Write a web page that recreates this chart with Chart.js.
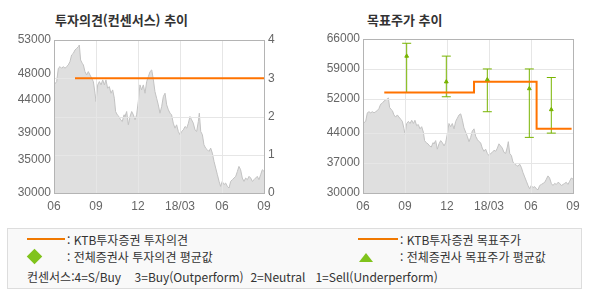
<!DOCTYPE html>
<html lang="ko">
<head>
<meta charset="utf-8">
<script src="https://cdn.jsdelivr.net/npm/chart.js@4.4.1/dist/chart.umd.min.js"></script>
<style>
    body { margin: 0; background: #fff; }
    #wrap { position: relative; width: 590px; height: 300px; font-family: "Noto Sans CJK KR", sans-serif; color: #333; }
    .title { position: absolute; top: 11px; font-size: 13px; font-weight: bold; line-height: 18px; color: #333; }
    canvas { position: absolute; top: 0; }
    #legend { position: absolute; left: 7px; top: 228px; width: 575px; height: 61px; border: 1px solid #ddd; background: #f9f9f9; box-sizing: border-box; }
    .lg { position: absolute; font-size: 12px; line-height: 16px; white-space: pre; color: #333; }
    .lg-line { position: absolute; height: 2px; background: #f07800; }
    .lg-diamond { position: absolute; width: 11px; height: 11px; background: #80c31c; transform: rotate(45deg); }
    .lg-tri { position: absolute; width: 0; height: 0; border-left: 7px solid transparent; border-right: 7px solid transparent; border-bottom: 9px solid #80c31c; }
</style>
</head>
<body>
<div id="wrap">
    <div class="title" style="left:55px">투자의견(컨센서스) 추이</div>
    <div class="title" style="left:367px">목표주가 추이</div>
    <canvas id="opinionChart" width="295" height="220" style="left:0"></canvas>
    <canvas id="targetChart" width="295" height="220" style="left:295px"></canvas>

    <div id="legend"></div>
    <div class="lg-line" style="left:27px; top:238px; width:38px"></div>
    <div class="lg" style="left:67px; top:232px">: KTB투자증권 투자의견</div>
    <div class="lg-line" style="left:358px; top:238px; width:40px"></div>
    <div class="lg" style="left:400px; top:232px">: KTB투자증권 목표주가</div>
    <div class="lg-diamond" style="left:29px; top:251px"></div>
    <div class="lg" style="left:67px; top:249px">: 전체증권사 투자의견 평균값</div>
    <div class="lg-tri" style="left:359px; top:253px"></div>
    <div class="lg" style="left:400px; top:249px">: 전체증권사 목표주가 평균값</div>
    <div class="lg" style="left:27px; top:269px">컨센서스:4=S/Buy    3=Buy(Outperform)  2=Neutral   1=Sell(Underperform)</div>
</div>

<script>
// x축: 2017년 6월부터의 개월 수
const xTicks = [0, 3, 6, 9, 12, 15];
const xLabels = ['06', '09', '12', '18/03', '06', '09'];

// 주가 (회색 영역)
const priceMonths = [0.00, 0.19, 0.31, 0.43, 0.55, 0.67, 0.79, 0.90, 1.02, 1.14, 1.26, 1.38, 1.50, 1.62, 1.74, 1.81, 1.90,
    2.02, 2.10, 2.21, 2.33, 2.45, 2.57, 2.69, 2.81, 2.93, 3.00, 3.12, 3.24, 3.36, 3.48, 3.60, 3.71, 3.83, 3.95,
    4.07, 4.19, 4.31, 4.40, 4.52, 4.64, 4.76, 4.88, 5.00, 5.07, 5.19, 5.31, 5.43, 5.55, 5.67, 5.79, 5.90,
    6.02, 6.14, 6.26, 6.38, 6.50, 6.62, 6.74, 6.86, 6.98, 7.10, 7.21, 7.33, 7.45, 7.57, 7.69, 7.81, 7.93,
    8.05, 8.17, 8.29, 8.40, 8.52, 8.64, 8.76, 8.88, 9.00, 9.12, 9.24, 9.36, 9.48, 9.60, 9.71, 9.83, 9.95,
    10.07, 10.19, 10.31, 10.38, 10.48, 10.60, 10.71, 10.83, 10.95, 11.07, 11.19, 11.31, 11.43, 11.55, 11.67, 11.79, 11.90,
    12.02, 12.14, 12.26, 12.38, 12.50, 12.62, 12.74, 12.86, 12.98, 13.10, 13.21, 13.33, 13.45, 13.57, 13.69, 13.81, 13.93,
    14.05, 14.17, 14.29, 14.40, 14.52, 14.64, 14.76, 14.88, 15.00];
const prices = [46250, 46750, 48750, 49000, 48750, 49000, 48750, 49000, 49250, 49750, 50750, 51000, 51500, 51750, 52000, 52250, 50000,
    49500, 49250, 48250, 47750, 48250, 47750, 47250, 46750, 45000, 43750, 46250, 46750, 46250, 47000, 46250, 47000, 45750, 46000,
    45000, 45500, 44250, 42250, 41750, 41500, 41000, 40750, 41750, 41500, 42250, 40250, 41500, 42250, 41750, 41000, 41750,
    43750, 46250, 45500, 46250, 45000, 46750, 47500, 48250, 48500, 47000, 45250, 44250, 43250, 42000, 43000, 44500, 45000,
    43250, 42500, 42000, 41750, 40500, 39750, 40250, 39250, 38750, 39250, 39500, 40000, 39750, 40500, 41500, 41000, 40500,
    39500, 39250, 40750, 42000, 39250, 38750, 37250, 36750, 36500, 36250, 36750, 36000, 34750, 33750, 32750, 31750, 31000,
    31750, 31250, 31500, 31000, 30750, 31750, 32000, 32250, 32500, 33250, 34000, 33500, 32250, 31750, 32250, 32000, 32500,
    32250, 31750, 32000, 32250, 32500, 32000, 32750, 33500, 33250];

// 왼쪽 차트 축
const priceTicksLeft = [30000, 35000, 39000, 44000, 48000, 53000];
const opinionTicks = [0, 1, 2, 3, 4];

// KTB 투자의견
const opinionMonths = [1.5, 15];
const opinionValues = [3, 3];

// 오른쪽 차트 축
const priceTicksRight = [30000, 37000, 44000, 52000, 59000, 66000];

// KTB 목표주가 (계단)
const targetMonths = [1.52, 7.93, 12.4, 14.9];
const targetValues = [53500, 56000, 45000, 45000];

// 전체증권사 목표주가: 최고/평균/최저
const consMonths = [3.12, 5.95, 8.88, 11.88, 13.45];
const consHigh = [65000, 62000, 59000, 59000, 57000];
const consAvg = [62000, 56000, 56500, 54400, 49500];
const consLow = [53500, 52500, 49000, 43000, 44000];

const toPoints = (xs, ys) => xs.map((x, i) => ({ x: x, y: ys[i] }));

const tickFont = { family: '"Liberation Sans", Arial, sans-serif', size: 12 };
const tickColor = '#666';
const orange = '#ff7300';
const green = '#78b400';

// 회색 영역 바로 위에 격자와 테두리를 그림 (선은 그 위로)
const gridOver = {
    id: 'gridOver',
    afterDatasetDraw(chart, args, opts) {
        if (args.index !== opts.areaIndex) return;
        const ctx = chart.ctx;
        const a = chart.chartArea;
        const xs = chart.scales.x;
        const ys = chart.scales[opts.axis];
        ctx.save();
        ctx.strokeStyle = '#e6e6e6';
        ctx.lineWidth = 1;
        ctx.beginPath();
        xs.ticks.forEach(t => {
            const px = Math.round(xs.getPixelForValue(t.value)) + 0.5;
            ctx.moveTo(px, a.top);
            ctx.lineTo(px, a.bottom);
        });
        ys.ticks.forEach(t => {
            const py = Math.round(ys.getPixelForValue(t.value)) + 0.5;
            ctx.moveTo(a.left, py);
            ctx.lineTo(a.right, py);
        });
        ctx.stroke();
        ctx.strokeStyle = '#b4b4b4';
        ctx.strokeRect(Math.round(a.left) + 0.5, Math.round(a.top) + 0.5,
            Math.round(a.right - a.left), Math.round(a.bottom - a.top));
        ctx.restore();
    }
};

function xScale() {
    return {
        type: 'linear',
        min: 0,
        max: 15,
        afterBuildTicks: s => { s.ticks = xTicks.map(v => ({ value: v })); },
        afterFit: s => { s.height = 27; },
        grid: { display: false, drawTicks: false },
        border: { display: false },
        ticks: { autoSkip: false, maxRotation: 0, padding: 6, font: tickFont, color: tickColor,
            callback: (v, i) => xLabels[i] }
    };
}

function areaDataset(axis) {
    return {
        type: 'line',
        data: toPoints(priceMonths, prices),
        yAxisID: axis,
        borderColor: '#c2c2c2',
        borderWidth: 1,
        backgroundColor: '#dfdfdf',
        fill: 'start',
        pointRadius: 0,
        tension: 0,
        order: 5
    };
}

document.addEventListener('DOMContentLoaded', function () {
    // 투자의견(컨센서스) 추이
    new Chart(document.getElementById('opinionChart'), {
        type: 'line',
        data: {
            datasets: [
                {
                    data: toPoints(opinionMonths, opinionValues),
                    yAxisID: 'y1',
                    borderColor: orange,
                    borderWidth: 2,
                    pointRadius: 0,
                    order: 1
                },
                areaDataset('y')
            ]
        },
        options: {
            responsive: false,
            animation: false,
            layout: { padding: { top: 40, left: 0, right: 0, bottom: 0 } },
            scales: {
                x: xScale(),
                y: {
                    min: 30000,
                    max: 53000,
                    afterBuildTicks: s => { s.ticks = priceTicksLeft.map(v => ({ value: v })); },
                    afterFit: s => { s.width = 54; },
                    grid: { display: false, drawTicks: false },
                    border: { display: false },
                    ticks: { padding: 3, font: tickFont, color: tickColor, callback: v => String(v) }
                },
                y1: {
                    position: 'right',
                    min: 0,
                    max: 4,
                    afterBuildTicks: s => { s.ticks = opinionTicks.map(v => ({ value: v })); },
                    afterFit: s => { s.width = 31; },
                    grid: { display: false, drawTicks: false },
                    border: { display: false },
                    ticks: { padding: 4, font: tickFont, color: tickColor, callback: v => String(v) }
                }
            },
            plugins: {
                legend: { display: false },
                tooltip: { enabled: false },
                gridOver: { areaIndex: 1, axis: 'y1' }
            }
        },
        plugins: [gridOver]
    });

    // 목표주가 추이
    const barPoints = [];
    consMonths.forEach((m, i) => {
        barPoints.push({ x: m, y: consLow[i] }, { x: m, y: consHigh[i] }, { x: m, y: null });
    });

    new Chart(document.getElementById('targetChart'), {
        type: 'line',
        data: {
            datasets: [
                {
                    data: toPoints(targetMonths, targetValues),
                    borderColor: orange,
                    borderWidth: 2,
                    stepped: 'before',
                    pointRadius: 0,
                    order: 1
                },
                {
                    data: barPoints,
                    borderColor: green,
                    borderWidth: 1,
                    spanGaps: false,
                    pointStyle: 'line',
                    pointRadius: 4.5,
                    pointBorderColor: green,
                    pointBorderWidth: 1,
                    order: 2
                },
                {
                    data: toPoints(consMonths, consAvg),
                    showLine: false,
                    pointStyle: 'triangle',
                    pointRadius: 2.2,
                    pointBackgroundColor: green,
                    pointBorderColor: green,
                    pointBorderWidth: 1,
                    order: 0
                },
                areaDataset('y')
            ]
        },
        options: {
            responsive: false,
            animation: false,
            layout: { padding: { top: 39, left: 0, right: 17, bottom: 0 } },
            scales: {
                x: xScale(),
                y: {
                    min: 30000,
                    max: 66000,
                    afterBuildTicks: s => { s.ticks = priceTicksRight.map(v => ({ value: v })); },
                    afterFit: s => { s.width = 68; },
                    grid: { display: false, drawTicks: false },
                    border: { display: false },
                    ticks: { padding: 3, font: tickFont, color: tickColor, callback: v => String(v) }
                }
            },
            plugins: {
                legend: { display: false },
                tooltip: { enabled: false },
                gridOver: { areaIndex: 3, axis: 'y' }
            }
        },
        plugins: [gridOver]
    });
});
</script>
</body>
</html>
